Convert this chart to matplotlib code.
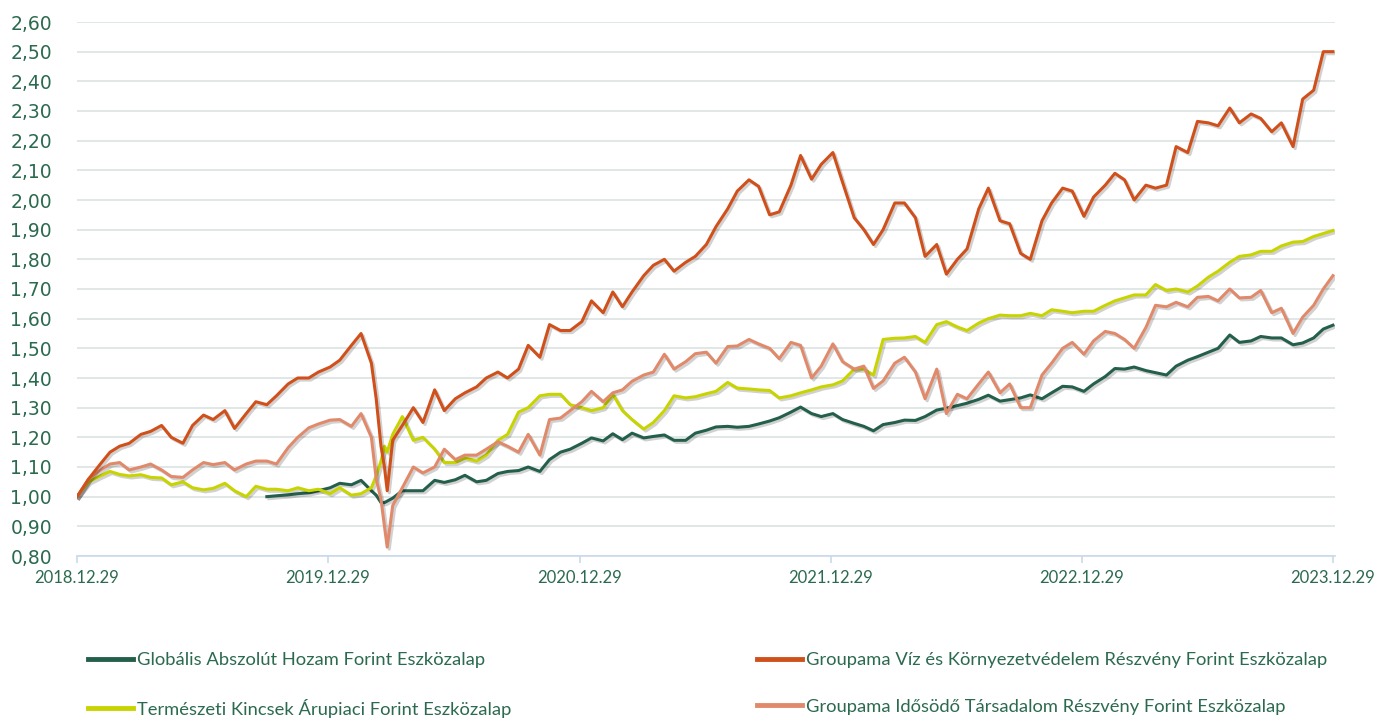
import pandas as pd
import matplotlib
matplotlib.use("Agg")
import matplotlib.pyplot as plt
import matplotlib.patheffects as pe
from matplotlib.lines import Line2D
from matplotlib.ticker import MultipleLocator, FuncFormatter

# semi-monthly sampling, plus a few extra days around the March 2020 crash
dates = pd.DatetimeIndex(['2018-12-29'])
dates = dates.append(pd.date_range('2019-01-01', '2023-12-15', freq='SMS'))
dates = dates.append(pd.DatetimeIndex(['2020-03-08', '2020-03-20', '2020-03-24', '2023-12-29']))
dates = dates.sort_values()

labels = ['Globális Abszolút Hozam Forint Eszközalap',
          'Groupama Víz és Környezetvédelem Részvény Forint Eszközalap',
          'Természeti Kincsek Árupiaci Forint Eszközalap',
          'Groupama Idősödő Társadalom Részvény Forint Eszközalap']

globalis = [None] * 19 + [
    1.00, 1.003, 1.006, 1.01, 1.013, 1.02, 1.03, 1.045, 1.04, 1.055, 1.02,
    1.005, 0.98, 0.98, 0.985, 0.995,
    1.02, 1.02, 1.02, 1.055, 1.048, 1.057, 1.072, 1.05, 1.055, 1.078,
    1.085, 1.088, 1.10, 1.085, 1.125, 1.15, 1.16, 1.18, 1.198, 1.188,
    1.212, 1.192, 1.214, 1.198, 1.203, 1.208, 1.19, 1.19, 1.214, 1.224,
    1.235, 1.237, 1.234, 1.237, 1.245, 1.255, 1.266, 1.285, 1.302, 1.28,
    1.27, 1.28, 1.26, 1.247, 1.237, 1.222, 1.243, 1.25, 1.258, 1.257,
    1.27, 1.292, 1.298, 1.307, 1.315, 1.328, 1.342, 1.322, 1.327, 1.333,
    1.343, 1.33, 1.35, 1.372, 1.37, 1.355, 1.38, 1.405, 1.432, 1.43,
    1.437, 1.425, 1.418, 1.41, 1.44, 1.46, 1.472, 1.487, 1.50, 1.545,
    1.52, 1.525, 1.54, 1.535, 1.535, 1.512, 1.518, 1.535, 1.565,
    1.578]

viz = [1.00,
    1.01, 1.06, 1.11, 1.15, 1.17, 1.18, 1.21, 1.22, 1.24, 1.20,
    1.18, 1.24, 1.275, 1.26, 1.29, 1.23, 1.28, 1.32, 1.31, 1.34,
    1.38, 1.40, 1.40, 1.42, 1.437, 1.46, 1.51, 1.55, 1.45,
    1.33, 1.17, 1.10, 1.02, 1.19,
    1.24, 1.30, 1.25, 1.36, 1.29, 1.33, 1.35, 1.37, 1.40, 1.42,
    1.40, 1.43, 1.51, 1.47, 1.58, 1.56, 1.56, 1.59, 1.66, 1.62,
    1.69, 1.64, 1.69, 1.745, 1.78, 1.80, 1.76, 1.79, 1.81, 1.85,
    1.91, 1.97, 2.03, 2.068, 2.046, 1.95, 1.96, 2.05, 2.15, 2.07,
    2.12, 2.16, 2.06, 1.94, 1.90, 1.85, 1.90, 1.99, 1.99, 1.94,
    1.81, 1.85, 1.75, 1.80, 1.835, 1.97, 2.04, 1.93, 1.92, 1.82,
    1.80, 1.93, 1.99, 2.04, 2.03, 1.945, 2.01, 2.05, 2.09, 2.068,
    2.00, 2.05, 2.04, 2.05, 2.18, 2.16, 2.265, 2.26, 2.25, 2.31,
    2.26, 2.29, 2.275, 2.23, 2.26, 2.18, 2.34, 2.37, 2.50,
    2.50]

termeszeti = [1.00,
    1.01, 1.05, 1.07, 1.085, 1.075, 1.07, 1.074, 1.065, 1.063, 1.04,
    1.05, 1.03, 1.023, 1.028, 1.045, 1.02, 1.00, 1.035, 1.025, 1.025,
    1.02, 1.03, 1.02, 1.025, 1.01, 1.03, 1.005, 1.01, 1.03,
    1.07, 1.12, 1.17, 1.15, 1.21,
    1.27, 1.19, 1.20, 1.16, 1.115, 1.115, 1.13, 1.12, 1.14, 1.19,
    1.21, 1.285, 1.30, 1.34, 1.345, 1.345, 1.31, 1.30, 1.29, 1.30,
    1.345, 1.29, 1.26, 1.228, 1.25, 1.29, 1.34, 1.333, 1.337, 1.347,
    1.355, 1.385, 1.366, 1.363, 1.36, 1.358, 1.333, 1.34, 1.35, 1.36,
    1.37, 1.377, 1.39, 1.43, 1.43, 1.41, 1.53, 1.534, 1.535, 1.54,
    1.52, 1.58, 1.59, 1.572, 1.56, 1.585, 1.60, 1.612, 1.61, 1.61,
    1.618, 1.61, 1.63, 1.625, 1.62, 1.625, 1.625, 1.645, 1.66, 1.67,
    1.68, 1.68, 1.715, 1.695, 1.70, 1.69, 1.71, 1.74, 1.76, 1.79,
    1.81, 1.815, 1.827, 1.827, 1.845, 1.858, 1.86, 1.877, 1.887,
    1.897]

idosodo = [1.00,
    1.01, 1.06, 1.09, 1.11, 1.115, 1.09, 1.10, 1.11, 1.09, 1.068,
    1.065, 1.09, 1.115, 1.108, 1.115, 1.09, 1.11, 1.12, 1.12, 1.11,
    1.165, 1.20, 1.232, 1.245, 1.258, 1.26, 1.237, 1.28, 1.20,
    1.06, 0.99, 0.90, 0.83, 0.97,
    1.03, 1.10, 1.08, 1.10, 1.16, 1.125, 1.14, 1.14, 1.16, 1.185,
    1.17, 1.15, 1.21, 1.14, 1.26, 1.265, 1.29, 1.32, 1.355, 1.32,
    1.35, 1.36, 1.389, 1.41, 1.42, 1.48, 1.43, 1.455, 1.482, 1.487,
    1.45, 1.506, 1.508, 1.53, 1.515, 1.50, 1.465, 1.52, 1.51, 1.40,
    1.44, 1.515, 1.455, 1.43, 1.44, 1.365, 1.39, 1.45, 1.47, 1.42,
    1.33, 1.43, 1.28, 1.345, 1.33, 1.38, 1.42, 1.35, 1.38, 1.30,
    1.30, 1.41, 1.45, 1.50, 1.52, 1.48, 1.525, 1.557, 1.55, 1.53,
    1.50, 1.57, 1.645, 1.64, 1.655, 1.64, 1.672, 1.675, 1.66, 1.70,
    1.67, 1.672, 1.695, 1.62, 1.635, 1.55, 1.605, 1.645, 1.70,
    1.745]

tick_dates = pd.to_datetime(['2018-12-29', '2019-12-29', '2020-12-29',
                             '2021-12-29', '2022-12-29', '2023-12-29'])

text_col = '#2b6a4f'
colors = ['#235f4a', '#d0501c', '#c8d400', '#e08a6b']
series = [globalis, viz, termeszeti, idosodo]

fig = plt.figure(figsize=(13.76, 7.2), dpi=100)
ax = fig.add_axes([77 / 1376, 164 / 720, 1258 / 1376, 534 / 720])

shadow = [pe.SimpleLineShadow(offset=(1.5, -1.5), shadow_color='k', alpha=0.18), pe.Normal()]
for i in [0, 2, 3, 1]:
    vals = pd.Series(series[i], index=dates, dtype=float)
    ax.plot(vals.index, vals.values, color=colors[i], lw=2.2, path_effects=shadow,
            solid_joinstyle='round')

ax.set_ylim(0.8, 2.6)
ax.set_xlim(dates[0], dates[-1] + pd.Timedelta(days=3))
ax.yaxis.set_major_locator(MultipleLocator(0.1))
ax.yaxis.set_major_formatter(FuncFormatter(lambda v, p: f'{v:.2f}'.replace('.', ',')))
ax.grid(axis='y', color='#dbe3e1', lw=1.2)
ax.set_axisbelow(True)
for s in ['top', 'right', 'left']:
    ax.spines[s].set_visible(False)
ax.spines['bottom'].set_color('#c9d9ea')
ax.spines['bottom'].set_linewidth(1.2)

ax.set_xticks(tick_dates)
ax.set_xticklabels([d.strftime('%Y.%m.%d') for d in tick_dates])
ax.tick_params(axis='x', length=5, width=1.2, color='#c9d9ea', pad=5,
               labelsize=12, labelcolor=text_col)
ax.tick_params(axis='y', length=0, pad=18, labelsize=13.5, labelcolor=text_col)
for t in ax.get_xticklabels():
    t.set_fontfamily(['Lato', 'DejaVu Sans'])

handles = [Line2D([], [], color=c, lw=3.5) for c in colors]
leg_kw = dict(loc='upper left', frameon=False, borderpad=0, borderaxespad=0,
              handlelength=2.45, handletextpad=0.2, labelspacing=1.68,
              prop={'family': ['Lato', 'DejaVu Sans'], 'size': 13.2}, labelcolor=text_col)
leg1 = fig.legend([handles[0], handles[2]], [labels[0], labels[2]],
                  bbox_to_anchor=(88 / 1376, 1 - 652 / 720), **leg_kw)
leg2 = fig.legend([handles[1], handles[3]], [labels[1], labels[3]],
                  bbox_to_anchor=(757 / 1376, 1 - 652 / 720), **leg_kw)

fig.savefig('out.png', dpi=100)
